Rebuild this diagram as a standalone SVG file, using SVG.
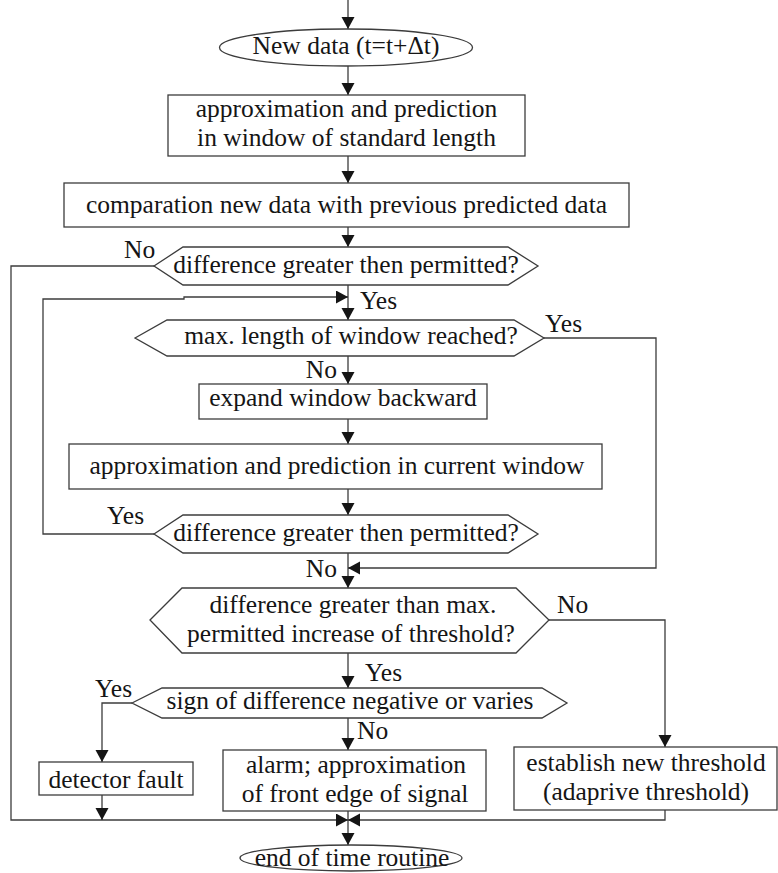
<svg xmlns="http://www.w3.org/2000/svg" width="778" height="873" viewBox="0 0 778 873">
  <style>
    .shape { fill: #ffffff; stroke: #3c3c3c; stroke-width: 1.3; }
    .wire { fill: none; stroke: #3c3c3c; stroke-width: 1.3; }
    text { font-family: "Liberation Serif", "Times New Roman", serif; font-size: 25.5px; fill: #151515; }
    .c { text-anchor: middle; }
    .e { text-anchor: end; }
  </style>
  <defs>
    <marker id="arrow" markerUnits="userSpaceOnUse" markerWidth="14" markerHeight="14" refX="12" refY="6.5" orient="auto">
      <path d="M0,0 L12,6.5 L0,13 Z" fill="#151515"/>
    </marker>
  </defs>
  <rect width="778" height="873" fill="#ffffff"/>

  <!-- connectors -->
  <g id="connectors">
    <path class="wire" d="M348,0 V29" marker-end="url(#arrow)"/>
    <path class="wire" d="M348,66 V95" marker-end="url(#arrow)"/>
    <path class="wire" d="M348,156 V183" marker-end="url(#arrow)"/>
    <path class="wire" d="M348,227 V247" marker-end="url(#arrow)"/>
    <path class="wire" d="M348,285 V320" marker-end="url(#arrow)"/>
    <path class="wire" d="M348,356 V384" marker-end="url(#arrow)"/>
    <path class="wire" d="M348,419 V444" marker-end="url(#arrow)"/>
    <path class="wire" d="M348,489 V515" marker-end="url(#arrow)"/>
    <path class="wire" d="M348,553 V588" marker-end="url(#arrow)"/>
    <path class="wire" d="M348,653 V688" marker-end="url(#arrow)"/>
    <path class="wire" d="M348,718 V750" marker-end="url(#arrow)"/>
    <path class="wire" d="M348,811 V845" marker-end="url(#arrow)"/>
    <!-- outer "No" exit of first check -->
    <path class="wire" d="M154,266 H11 V820 H348" marker-end="url(#arrow)"/>
    <!-- inner loop back to the window check -->
    <path class="wire" d="M154,534 H43 V299 H184 V297 H348" marker-end="url(#arrow)"/>
    <!-- max length reached -->
    <path class="wire" d="M544,338 H656 V568 H348" marker-end="url(#arrow)"/>
    <!-- not above max permitted increase -->
    <path class="wire" d="M549,620 H665 V747" marker-end="url(#arrow)"/>
    <path class="wire" d="M665,810 V820 H348" marker-end="url(#arrow)"/>
    <!-- sign negative / varies -->
    <path class="wire" d="M132,703 H102 V762" marker-end="url(#arrow)"/>
    <path class="wire" d="M102,795 V820" marker-end="url(#arrow)"/>
  </g>

  <g id="start">
    <ellipse class="shape" cx="346" cy="47.5" rx="126.5" ry="18.5"/>
    <text class="c" x="346" y="54">New data (t=t+Δt)</text>
  </g>

  <g id="approx-standard">
    <rect class="shape" x="168" y="95" width="357" height="61"/>
    <text class="c" x="346.5" y="117">approximation and prediction</text>
    <text class="c" x="346.5" y="146">in window of standard length</text>
  </g>

  <g id="compare">
    <rect class="shape" x="64" y="183" width="565" height="44"/>
    <text class="c" x="346.5" y="213">comparation new data with previous predicted data</text>
  </g>

  <g id="check-difference">
    <polygon class="shape" points="154,266 183,247 508,247 538,266 508,285 183,285"/>
    <text class="c" x="346" y="273">difference greater then permitted?</text>
  </g>

  <g id="check-max-length">
    <polygon class="shape" points="135,338 167,320 514,320 544,338 514,356 167,356"/>
    <text class="c" x="351" y="344">max. length of window reached?</text>
  </g>

  <g id="expand-window">
    <rect class="shape" x="199" y="384" width="288" height="35"/>
    <text class="c" x="343" y="406">expand window backward</text>
  </g>

  <g id="approx-current">
    <rect class="shape" x="69" y="444" width="533" height="45"/>
    <text class="c" x="337" y="474">approximation and prediction in current window</text>
  </g>

  <g id="recheck-difference">
    <polygon class="shape" points="154,534 183,515 508,515 538,534 508,553 183,553"/>
    <text class="c" x="346" y="541">difference greater then permitted?</text>
  </g>

  <g id="check-threshold">
    <polygon class="shape" points="150,620 182,588 516,588 549,620 516,653 182,653"/>
    <text class="c" x="353" y="613">difference greater than max.</text>
    <text class="c" x="351" y="642">permitted increase of threshold?</text>
  </g>

  <g id="check-sign">
    <polygon class="shape" points="132,703 162,688 542,688 567,703 542,718 162,718"/>
    <text class="c" x="350" y="709">sign of difference negative or varies</text>
  </g>

  <g id="detector-fault">
    <rect class="shape" x="39" y="762" width="154" height="33"/>
    <text class="c" x="116" y="788">detector fault</text>
  </g>

  <g id="alarm">
    <rect class="shape" x="223" y="750" width="263" height="61"/>
    <text class="c" x="356" y="773">alarm; approximation</text>
    <text class="c" x="355" y="802">of front edge of signal</text>
  </g>

  <g id="new-threshold">
    <rect class="shape" x="514" y="747" width="263" height="63"/>
    <text class="c" x="646" y="771">establish new threshold</text>
    <text class="c" x="646" y="800">(adaprive threshold)</text>
  </g>

  <g id="end">
    <ellipse class="shape" cx="351" cy="858" rx="111" ry="13"/>
    <text class="c" x="352" y="866">end of time routine</text>
  </g>

  <g id="labels">
    <text x="124" y="258">No</text>
    <text x="360" y="309">Yes</text>
    <text x="545" y="332">Yes</text>
    <text class="e" x="337" y="378">No</text>
    <text x="107" y="524">Yes</text>
    <text class="e" x="337" y="577">No</text>
    <text x="557" y="613">No</text>
    <text x="365" y="681">Yes</text>
    <text x="95" y="697">Yes</text>
    <text x="357" y="739">No</text>
  </g>
</svg>
